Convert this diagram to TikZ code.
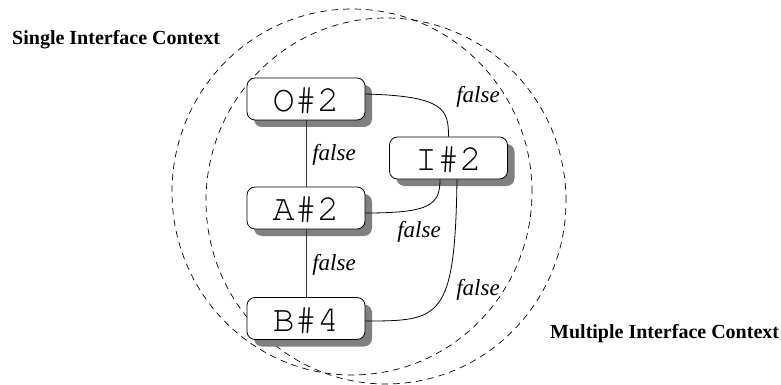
\documentclass[tikz,border=0pt]{standalone}
\usepackage{fontspec}
\setmainfont{Liberation Serif}
\newfontfamily\boxfont{texgyrecursor-regular.otf}
\usetikzlibrary{shadows}
\tikzset{
  statebox/.style={draw=black, line width=0.8pt, fill=white, rounded corners=8pt,
    minimum width=118pt, minimum height=42pt, inner sep=0pt,
    text height=25.4pt, text depth=0pt,
    font=\boxfont\fontsize{37}{37}\selectfont,
    drop shadow={shadow xshift=7pt, shadow yshift=-7pt, fill=black!50, opacity=1}},
  edgelabel/.style={inner sep=0pt, font=\itshape\fontsize{23}{23}\selectfont},
  ctxlabel/.style={inner sep=0pt, anchor=base west, font=\bfseries\fontsize{20}{20}\selectfont},
  ctxline/.style={draw=black, line width=0.7pt, dash pattern=on 6.5pt off 5pt},
  conn/.style={draw=black, line width=0.8pt},
  vconn/.style={draw=black!80, line width=0.7pt}
}
\begin{document}
\begin{tikzpicture}[x=1pt, y=-1pt]
\useasboundingbox (0,0) rectangle (781,385);
% contexts
\draw[ctxline] (352,192) ellipse [x radius=180pt, y radius=183pt];
\draw[ctxline] (386,201) ellipse [x radius=180pt, y radius=183pt];
\node[ctxlabel] (single) at (12,45) {Single Interface Context};
\node[ctxlabel] (multi) at (550,338) {Multiple Interface Context};
% nodes
\node[statebox] (O) at (306,99) {O\#2};
\node[statebox] (A) at (306,208) {A\#2};
\node[statebox] (B) at (306,318.5) {B\#4};
\node[statebox] (I) at (448.5,158) {I\#2};
% edges
\draw[vconn] (O.south) -- (A.north);
\draw[vconn] (A.south) -- (B.north);
\draw[conn] ([yshift=5pt]O.east) .. controls (445,96) and (448.5,110) .. (I.north);
\draw[conn] ([yshift=-5pt]A.east) .. controls (430,213) and (440,205) .. ([xshift=-8.5pt]I.south);
\draw[conn] ([xshift=8.5pt]I.south) .. controls (455,320) and (440,321) .. ([yshift=-2.5pt]B.east);
% edge labels
\node[edgelabel] (l1) at (478,97) {false};
\node[edgelabel] (l2) at (334,155) {false};
\node[edgelabel] (l3) at (419,232) {false};
\node[edgelabel] (l4) at (334,265) {false};
\node[edgelabel] (l5) at (478,290) {false};
\end{tikzpicture}
\end{document}
